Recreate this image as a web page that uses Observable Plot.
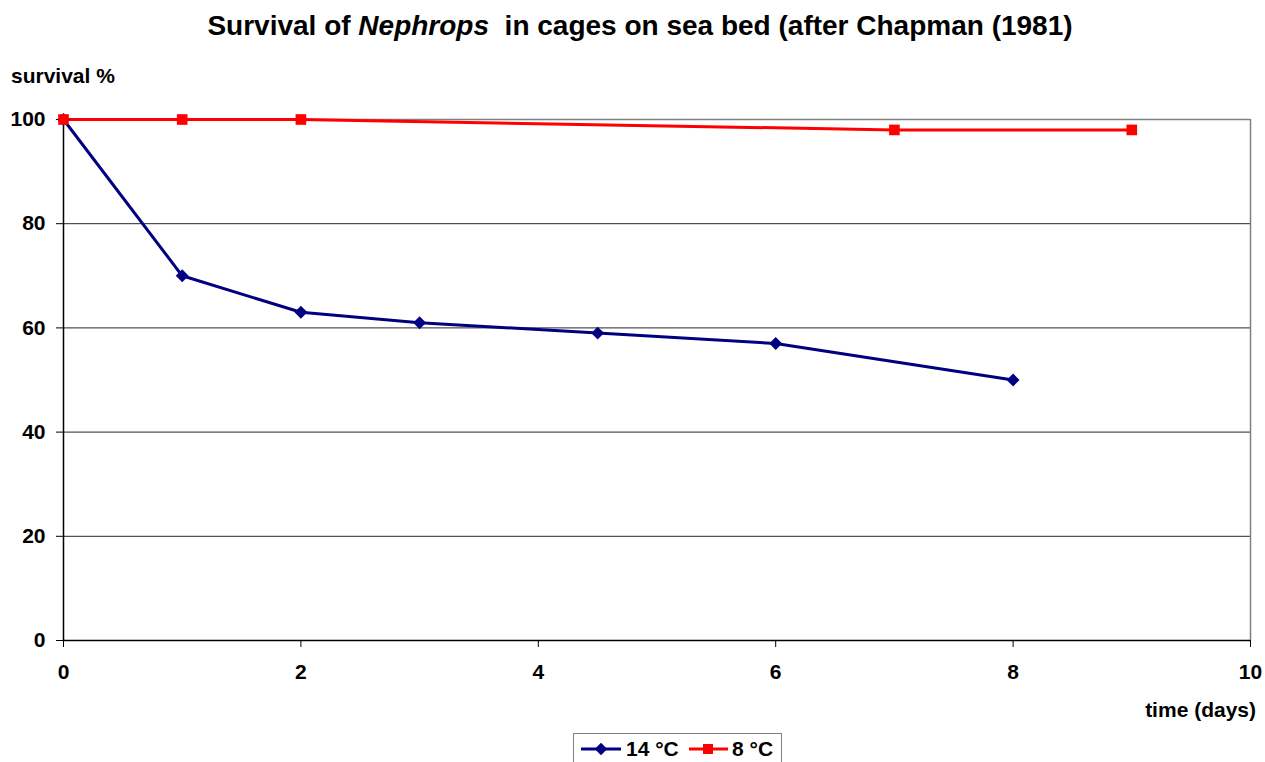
<!DOCTYPE html>
<html>
<head>
<meta charset="utf-8">
<script src="https://cdn.jsdelivr.net/npm/d3@7"></script>
<script src="https://cdn.jsdelivr.net/npm/@observablehq/plot@0.6"></script>
<style>
  html, body { margin: 0; padding: 0; background: #fff; }
  #wrap { position: relative; width: 1265px; height: 762px; overflow: hidden; font-family: "Liberation Sans", Arial, sans-serif; }
  #title { position: absolute; left: 0; width: 1280px; top: 10px; text-align: center; font-weight: bold; font-size: 28px; color: #000; }
  #ylab { position: absolute; left: 11px; top: 64px; font-weight: bold; font-size: 21px; }
  #xlab { position: absolute; right: 9px; top: 698px; font-weight: bold; font-size: 21px; }
  #legend { position: absolute; left: 573px; top: 733px; width: 209px; height: 40px; border: 1px solid #808080; box-sizing: border-box; background: #fff; }
  #legend svg { position: absolute; left: 0; top: 0; }
  #plot { position: absolute; left: 0; top: 0; }
</style>
</head>
<body>
<div id="wrap">
  <div id="plot"></div>
  <div id="title">Survival of <i>Nephrops</i>&nbsp; in cages on sea bed (after Chapman (1981)</div>
  <div id="ylab">survival %</div>
  <div id="xlab">time (days)</div>
  <div id="legend"></div>
</div>
<script>
const days14 = [0, 1, 2, 3, 4.5, 6, 8];
const surv14 = [100, 70, 63, 61, 59, 57, 50];
const days8 = [0, 1, 2, 7, 9];
const surv8 = [100, 100, 100, 98, 98];
const xTicks = [0, 2, 4, 6, 8, 10];
const yTicks = [0, 20, 40, 60, 80, 100];
const seriesNames = ["14 °C", "8 °C"];
const seriesColors = ["#000080", "#FF0000"];

const d14 = days14.map((d, i) => ({day: d, surv: surv14[i]}));
const d8 = days8.map((d, i) => ({day: d, surv: surv8[i]}));

const chart = Plot.plot({
  width: 1265,
  height: 762,
  marginLeft: 63,
  marginRight: 15,
  marginTop: 119,
  marginBottom: 122,
  x: {domain: [0, 10], ticks: xTicks, label: null},
  y: {domain: [0, 100], ticks: yTicks, label: null},
  style: {fontFamily: "'Liberation Sans', Arial, sans-serif", fontSize: "21px", fontWeight: "bold", color: "#000", background: "#fff"},
  marks: [
    Plot.ruleY([20, 40, 60, 80], {stroke: "#000", strokeWidth: 1, strokeOpacity: 0.85}),
    Plot.ruleY([100], {stroke: "#808080", strokeWidth: 1.5}),
    Plot.ruleX([10], {stroke: "#808080", strokeWidth: 1.5}),
    Plot.axisX({ticks: xTicks, tickSize: 7, tickPadding: 17, stroke: "#000", fontWeight: "bold", fontSize: 21, label: null}),
    Plot.axisY({ticks: yTicks, tickSize: 7, tickPadding: 11, stroke: "#000", fontWeight: "bold", fontSize: 21, label: null}),
    Plot.ruleX([0], {stroke: "#000", strokeWidth: 1.5}),
    Plot.ruleY([0], {stroke: "#000", strokeWidth: 1.5}),
    Plot.line(d14, {x: "day", y: "surv", stroke: seriesColors[0], strokeWidth: 3}),
    Plot.line(d8, {x: "day", y: "surv", stroke: seriesColors[1], strokeWidth: 3}),
    Plot.dot(d14, {x: "day", y: "surv", symbol: "diamond2", r: 5.8, fill: seriesColors[0], stroke: "none"}),
    Plot.dot(d8, {x: "day", y: "surv", symbol: "square", r: 6, fill: seriesColors[1], stroke: "none"})
  ]
});
document.getElementById("plot").appendChild(chart);

// Legend drawn with d3
const lg = d3.select("#legend").append("svg").attr("width", 209).attr("height", 40);
const items = [
  {x0: 7, x1: 47, cx: 27, tx: 52, name: seriesNames[0], color: seriesColors[0], sym: d3.symbolDiamond2, size: 100},
  {x0: 115, x1: 154, cx: 134, tx: 158, name: seriesNames[1], color: seriesColors[1], sym: d3.symbolSquare, size: 100}
];
items.forEach(it => {
  lg.append("line").attr("x1", it.x0).attr("x2", it.x1).attr("y1", 15).attr("y2", 15)
    .attr("stroke", it.color).attr("stroke-width", 3);
  lg.append("path").attr("d", d3.symbol(it.sym, it.size)()).attr("transform", `translate(${it.cx},15)`)
    .attr("fill", it.color);
  lg.append("text").attr("x", it.tx).attr("y", 22).text(it.name)
    .attr("font-family", "'Liberation Sans', Arial, sans-serif").attr("font-weight", "bold").attr("font-size", 21);
});
</script>
</body>
</html>
